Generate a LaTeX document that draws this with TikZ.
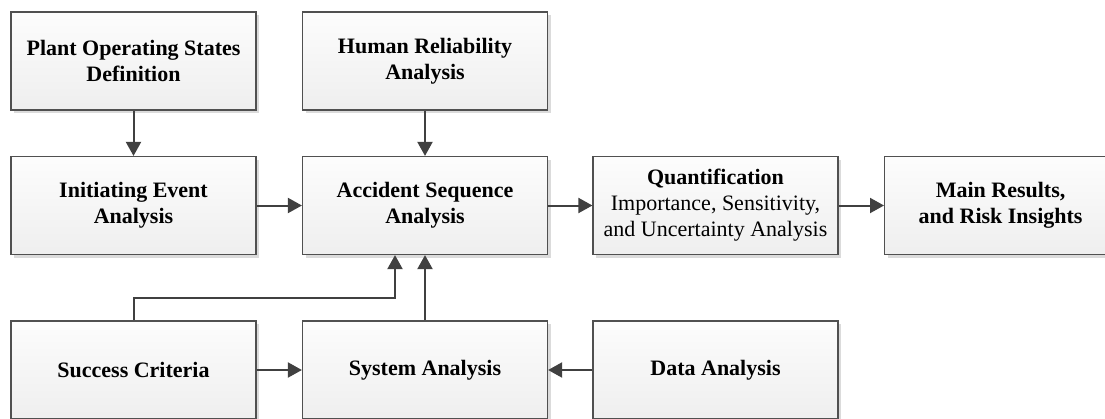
\documentclass[tikz,border=0pt]{standalone}
\usepackage{fontspec}
\setmainfont{Liberation Serif}
\usetikzlibrary{arrows.meta,shadows}
\definecolor{edge}{HTML}{404040}
\definecolor{frame}{HTML}{505050}
\tikzset{
  box/.style={draw=frame, line width=1.2pt, top color=gray!2, bottom color=gray!13,
    minimum width=245pt, minimum height=98pt, inner sep=0pt, align=center,
    font=\fontsize{22}{26}\selectfont,
    drop shadow={shadow xshift=3pt, shadow yshift=-3pt, fill=black!14, opacity=1}},
  flow/.style={draw=edge, line width=2pt, -{Triangle[length=14pt,width=15pt]}}
}
\begin{document}
\begin{tikzpicture}[x=1pt,y=-1pt]
\clip (0,0) rectangle (1105,418);
\fill[white] (0,0) rectangle (1105,418);
% top row
\node[box] (pos) at (133.5,61) {\textbf{Plant Operating States}\\\textbf{Definition}};
\node[box] (hra) at (425,61) {\textbf{Human Reliability}\\\textbf{Analysis}};
% middle row
\node[box] (iea) at (133.5,205.5) {\textbf{Initiating Event}\\\textbf{Analysis}};
\node[box] (asa) at (425,205.5) {\textbf{Accident Sequence}\\\textbf{Analysis}};
\node[box] (qua) at (715.5,205.5)
  {\textbf{Quantification}\\Importance, Sensitivity,\\and Uncertainty Analysis};
\node[box, minimum width=232pt, anchor=west] (res) at (884,205.5) {\textbf{Main Results,}\\\textbf{and Risk Insights}};
% bottom row
\node[box] (suc) at (133.5,370) {\textbf{Success Criteria}};
\node[box] (sys) at (425,370) {\textbf{System Analysis}};
\node[box] (dat) at (715.5,370) {\textbf{Data Analysis}};
% connectors
\draw[flow] (pos) -- (iea);
\draw[flow] (hra) -- (asa);
\draw[flow] (iea) -- (asa);
\draw[flow] (asa) -- (qua);
\draw[flow] (qua) -- (res);
\draw[flow] (suc) -- (sys);
\draw[flow] (dat) -- (sys);
\draw[flow] (sys) -- (asa);
\coordinate (bend) at (395,298);
\draw[flow] (suc.north) |- (bend) -- (bend |- asa.south);
\end{tikzpicture}
\end{document}
